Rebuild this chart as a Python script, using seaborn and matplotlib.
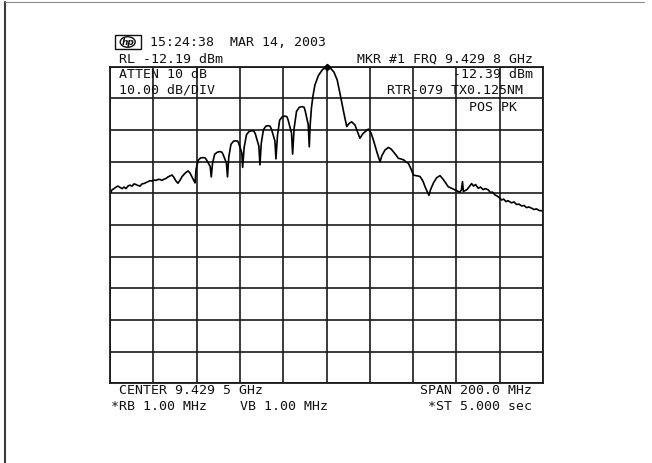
import numpy as np
import pandas as pd
import seaborn as sns
import matplotlib
matplotlib.use("Agg")
import matplotlib.pyplot as plt
from matplotlib.patches import Rectangle, Ellipse
from matplotlib.lines import Line2D

# Sweep settings
center_mhz = 9429.5
span_mhz = 200.0
ref_level_dbm = -12.19
db_per_div = 10.0

# Measured trace: frequency (MHz) and level (dBm)
freq_mhz = [
    9329.6, 9330.3, 9331.3, 9332.2, 9333.1, 9334.0, 9335.0, 9335.9, 9336.8, 9337.7,
    9338.6, 9339.6, 9340.5, 9341.4, 9342.3, 9343.3, 9344.2, 9345.1, 9346.0, 9347.0,
    9347.9, 9348.8, 9349.7, 9350.7, 9351.6, 9352.5, 9353.4, 9354.4, 9355.3, 9356.2,
    9357.1, 9358.1, 9359.0, 9359.9, 9360.8, 9361.8, 9362.7, 9363.6, 9364.5, 9365.5,
    9366.4, 9367.3, 9368.0, 9368.7,
    9369.2, 9370.2, 9371.3, 9372.4, 9373.4, 9373.9, 9375.7, 9376.2,
    9376.8, 9377.8, 9379.0, 9380.2, 9381.1, 9381.6, 9383.2, 9383.7,
    9384.3, 9385.3, 9386.5, 9387.6, 9388.4, 9388.9, 9390.3, 9390.7,
    9391.4, 9392.5, 9393.8, 9395.2, 9396.0, 9396.6, 9398.2, 9398.7,
    9399.3, 9400.3, 9401.4, 9402.6, 9403.4, 9404.0, 9405.6, 9406.1,
    9406.8, 9407.8, 9409.0, 9410.3, 9411.2, 9411.7, 9413.3, 9413.8,
    9414.5, 9415.6, 9416.9, 9418.3, 9419.1, 9419.6, 9421.0, 9421.5,
    9421.9, 9422.5, 9423.2, 9424.1, 9425.7, 9427.7, 9429.8,
    9431.5, 9432.9, 9434.4, 9436.0, 9437.5, 9438.8, 9439.9, 9441.1, 9442.6, 9444.0,
    9444.9, 9446.1, 9447.3, 9448.8, 9450.0, 9451.1, 9452.9, 9454.2, 9455.1, 9456.5,
    9458.0, 9459.3, 9460.3, 9461.6, 9462.6, 9464.2, 9465.3, 9466.2, 9467.3, 9468.5,
    9469.6, 9470.8, 9471.7, 9472.7, 9474.0, 9475.0, 9475.9, 9476.8, 9477.5, 9478.8,
    9480.3, 9481.9, 9483.3, 9484.7, 9485.7, 9487.0, 9487.9, 9488.8, 9490.0, 9491.1,
    9491.8, 9492.3, 9492.7, 9493.5, 9494.4, 9495.3, 9496.5, 9497.4, 9498.3, 9499.6,
    9500.6, 9501.8, 9502.9, 9504.2, 9505.2, 9506.2, 9507.3, 9508.2, 9509.2, 9510.4,
    9511.3, 9512.4, 9513.3, 9515.0, 9516.1, 9517.3, 9518.4, 9519.7, 9520.7, 9521.9,
    9523.0, 9524.3, 9525.3, 9526.5, 9527.7, 9528.9, 9529.5,
]
level_dbm = [
    -52.2, -51.1, -50.7, -50.2, -49.9, -50.3, -50.7, -50.2, -50.7, -49.9,
    -49.6, -49.9, -49.2, -49.4, -49.7, -49.9, -49.2, -49.1, -48.8, -48.5,
    -48.2, -48.3, -48.0, -48.1, -47.8, -47.8, -48.1, -47.7, -47.5, -47.0,
    -46.7, -46.4, -47.2, -48.3, -49.0, -48.0, -46.9, -46.2, -45.6, -45.1,
    -45.8, -47.0, -48.0, -48.9,
    -44.5, -41.7, -41.0, -40.9, -41.0, -41.5, -43.7, -47.0,
    -42.6, -39.8, -39.2, -39.0, -39.2, -39.8, -42.6, -47.0,
    -40.7, -36.7, -35.7, -35.6, -35.7, -36.4, -39.4, -44.0,
    -37.7, -33.6, -32.6, -32.4, -32.6, -33.5, -37.3, -43.2,
    -36.4, -32.1, -31.0, -30.8, -31.0, -31.9, -35.6, -41.3,
    -33.9, -29.1, -28.0, -27.8, -28.0, -29.0, -33.2, -39.8,
    -31.6, -26.3, -25.0, -24.8, -25.0, -26.1, -30.5, -37.5,
    -30.6, -25.2, -21.4, -18.0, -15.0, -13.0, -12.39,
    -12.8, -13.9, -16.4, -21.7, -26.9, -31.1, -30.1, -29.6, -30.6, -33.1,
    -34.8, -33.5, -32.7, -31.9, -33.1, -35.3, -39.5, -42.2, -40.2, -38.5,
    -37.7, -38.2, -39.0, -40.1, -41.1, -41.4, -41.7, -42.3, -42.7, -44.5,
    -46.4, -46.6, -46.7, -46.9, -48.3, -50.1, -51.5, -52.8, -51.1, -49.0,
    -47.3, -46.6, -47.7, -49.1, -50.1, -50.5, -50.8, -51.1, -51.5, -51.8,
    -51.1, -48.5, -51.6, -51.3, -51.0, -50.2, -49.1, -49.9, -49.4, -50.6,
    -50.2, -51.0, -50.7, -51.1, -51.9, -51.8, -52.7, -53.0, -53.5, -54.3,
    -54.0, -54.8, -54.5, -55.2, -54.9, -55.7, -55.6, -56.2, -56.0, -56.7,
    -56.5, -56.9, -57.3, -57.1, -57.6, -57.7, -57.8,
]

header_time = "15:24:38  MAR 14, 2003"
ref_label = "RL -12.19 dBm"
marker_label = "MKR #1 FRQ 9.429 8 GHz"
atten_label = "ATTEN 10 dB"
scale_label = "10.00 dB/DIV"
marker_level_label = "-12.39 dBm"
id_label = "RTR-079 TX0.125NM"
detector_label = "POS PK"
center_label = "CENTER 9.429 5 GHz"
span_label = "SPAN 200.0 MHz"
rbw_label = "*RB 1.00 MHz"
vbw_label = "VB 1.00 MHz"
sweep_label = "*ST 5.000 sec"

trace = pd.DataFrame({"freq": freq_mhz, "level": level_dbm})

sns.set_style("white")
plt.rcParams["font.family"] = ["DejaVu Sans Mono", "DejaVu Sans"]

W, H = 652, 463
fig = plt.figure(figsize=(W / 100, H / 100), dpi=100)
fig.patch.set_facecolor("white")

def fx(px):
    return px / W

def fy(py):
    return 1 - py / H

# Plot area: 10 x 10 graticule
left_px, right_px, top_px, bottom_px = 110.2, 543.0, 66.7, 383.3
ax = fig.add_axes([fx(left_px), fy(bottom_px), fx(right_px - left_px), (bottom_px - top_px) / H])

f_lo = center_mhz - span_mhz / 2
f_hi = center_mhz + span_mhz / 2
ax.set_xlim(f_lo, f_hi)
ax.set_ylim(ref_level_dbm - 10 * db_per_div, ref_level_dbm)
ax.set_xticks(np.linspace(f_lo, f_hi, 11))
ax.set_yticks(np.linspace(ref_level_dbm - 10 * db_per_div, ref_level_dbm, 11))
ax.grid(True, color="#1a1a1a", linewidth=1.2)
ax.tick_params(length=0, labelbottom=False, labelleft=False)
for s in ax.spines.values():
    s.set_color("#1a1a1a")
    s.set_linewidth(1.3)
ax.set_facecolor("white")

sns.lineplot(data=trace, x="freq", y="level", ax=ax, color="black",
             linewidth=1.2, estimator=None, sort=False, legend=False)

# Marker at the highest point of the trace
ipk = int(np.argmax(level_dbm))
ax.plot([freq_mhz[ipk]], [level_dbm[ipk]], marker="D", markersize=3.2,
        color="black", zorder=5, clip_on=False)
ax.set_xlabel("")
ax.set_ylabel("")

fs = 9.5
txt = dict(fontsize=fs, color="#111111", va="center")

# Header
fig.text(fx(150), fy(42), header_time, ha="left", **txt)
fig.text(fx(119), fy(59.3), ref_label, ha="left", **txt)
fig.text(fx(533), fy(59.3), marker_label, ha="right", **txt)

# Inside-graticule annotations
fig.text(fx(119), fy(74), atten_label, ha="left", **txt)
fig.text(fx(119), fy(90), scale_label, ha="left", **txt)
fig.text(fx(533), fy(74), marker_level_label, ha="right", **txt)
fig.text(fx(523), fy(90), id_label, ha="right", **txt)
fig.text(fx(469), fy(107.5), detector_label, ha="left", **txt)

# Footer
fig.text(fx(119), fy(390.5), center_label, ha="left", **txt)
fig.text(fx(532), fy(390.5), span_label, ha="right", **txt)
fig.text(fx(111), fy(406.5), rbw_label, ha="left", **txt)
fig.text(fx(240), fy(406.5), vbw_label, ha="left", **txt)
fig.text(fx(532), fy(406.5), sweep_label, ha="right", **txt)

# Logo box
fig.patches.append(Rectangle((fx(115), fy(48.5)), fx(25.5), (48.5 - 35.5) / H,
                             transform=fig.transFigure, fill=False,
                             edgecolor="#111111", linewidth=1.0))
fig.patches.append(Ellipse((fx(127.7), fy(42)), fx(15), 10.5 / H,
                           transform=fig.transFigure, fill=False,
                           edgecolor="#111111", linewidth=1.0))
fig.text(fx(127.7), fy(42.3), "hp", ha="center", va="center", fontsize=6.5,
         style="italic", fontweight="bold", color="#111111",
         family=["DejaVu Sans", "DejaVu Sans Mono"])

# Page edge lines
fig.lines.append(Line2D([fx(4.5), fx(4.5)], [fy(1.5), fy(463)], transform=fig.transFigure,
                        color="#3a3a3a", linewidth=1.5))
fig.lines.append(Line2D([fx(4.5), fx(644)], [fy(1.5), fy(1.5)], transform=fig.transFigure,
                        color="#8a8a8a", linewidth=0.8))

fig.savefig("out.png", dpi=100, facecolor="white")
